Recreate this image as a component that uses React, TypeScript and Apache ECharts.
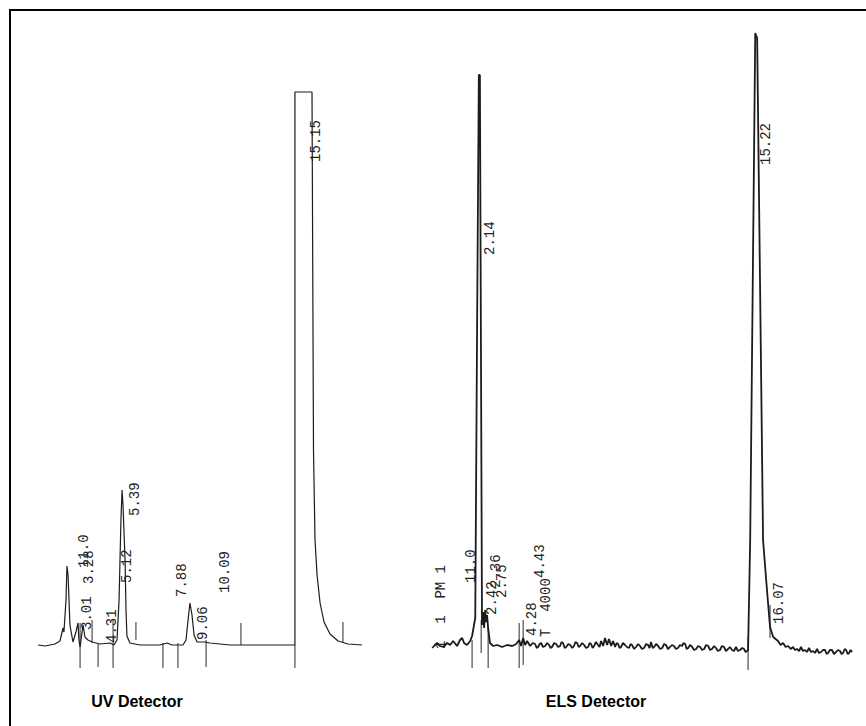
import React, { useEffect, useRef } from "react";
import * as echarts from "echarts";

// UV detector trace: [time (min), signal height]
const uvTrace: [number, number][] = [
  [0.91, 0], [1.28, -1], [1.81, 1], [2.08, 4], [2.24, 17], [2.29, 13], [2.4, 45], [2.45, 79],
  [2.51, 70], [2.61, 20], [2.77, 3], [2.93, 13], [3.04, 22], [3.09, 5], [3.15, -2], [3.2, 5],
  [3.31, 20], [3.41, 8], [3.57, 5], [3.79, 3], [4.21, 1], [4.75, 2], [4.96, 0], [5.12, 5],
  [5.23, 45], [5.33, 125], [5.39, 155], [5.44, 140], [5.55, 85], [5.6, 35], [5.65, 9], [5.81, 2],
  [6.35, 0], [7.41, 0], [7.79, 2], [8.05, 0], [8.64, 0], [8.8, 5], [8.91, 25], [9.01, 42],
  [9.12, 30], [9.23, 10], [9.39, 3], [9.81, 3], [10.08, 2], [11.15, 0], [14.61, 0], [14.61, 553],
  [15.52, 553], [15.6, 195], [15.68, 105], [15.79, 70], [15.95, 42], [16.16, 23], [16.48, 11],
  [16.91, 4], [17.44, 1], [18.19, 0],
];
// UV integration markers: [time, from, to]
const uvTicks: [number, number, number][] = [
  [3.15, 22, -23], [3.79, 25, 2], [4.11, 2, -22], [4.91, 25, -23], [6.13, 23, 5], [7.57, 2, -23],
  [8.37, 2, -23], [9.87, 5, -22], [11.73, 22, 0], [14.61, 0, -23], [17.17, 23, 3],
];
// UV peak labels: [time, height, text]
const uvLabels: [number, number, string][] = [
  [3.52, 15, "3.01"], [3.63, 61, "3.28"], [3.36, 77, "11.0"], [4.85, 2, "4.31"], [5.63, 62, "5.12"],
  [6.08, 129, "5.39"], [8.59, 48, "7.88"], [9.71, 5, "9.06"], [10.88, 52, "10.09"], [15.73, 483, "15.15"],
];

// ELS detector trace
const elsTrace: [number, number][] = [
  [-0.09, 0], [0.0, 2], [0.14, 5], [0.28, 2], [0.43, 1], [0.62, 5], [0.76, 3], [0.9, 7], [1.09, 2],
  [1.23, 8], [1.33, 10], [1.42, 5], [1.56, 3], [1.71, 7], [1.8, 12], [1.95, 30], [2.04, 330],
  [2.12, 573], [2.17, 573], [2.22, 300], [2.27, 23], [2.32, 36], [2.37, 20], [2.42, 38], [2.46, 26],
  [2.51, 33], [2.56, 20], [2.65, 5], [2.8, 2], [2.99, 3], [3.22, 1], [3.46, 3], [3.7, 2], [3.89, 4],
  [4.03, 8], [4.12, 2], [4.22, 10], [4.31, 3], [4.41, 7], [4.55, 2], [4.67, 5], [4.79, 4], [4.86, 0],
  [4.93, 1], [5.0, 4], [5.07, 5], [5.16, 1], [5.26, 2], [5.36, 5], [5.45, 3], [5.52, 0], [5.59, 1],
  [5.69, 5], [5.78, 4], [5.88, 1], [5.97, 2], [6.04, 6], [6.11, 5], [6.19, 0], [6.26, 1], [6.36, 4],
  [6.45, 3], [6.55, 0], [6.63, 2], [6.7, 6], [6.78, 5], [6.85, 1], [6.92, 2], [7.02, 5], [7.11, 3],
  [7.2, 0], [7.3, 1], [7.37, 5], [7.44, 4], [7.51, 0], [7.58, 2], [7.67, 6], [7.77, 3], [7.84, 1],
  [7.91, 7], [8.01, 2], [8.1, 10], [8.2, 3], [8.29, 9], [8.39, 2], [8.48, 7], [8.58, 1], [8.65, 5],
  [8.72, 4], [8.79, 0], [8.86, 1], [8.95, 5], [9.05, 3], [9.14, 1], [9.24, 0], [9.31, 4], [9.38, 3],
  [9.48, -1], [9.57, 1], [9.67, 4], [9.76, 2], [9.85, -1], [9.95, 0], [10.05, 4], [10.14, 3],
  [10.21, 0], [10.28, 6], [10.36, 0], [10.43, 1], [10.52, 4], [10.62, 2], [10.71, -1], [10.81, 0],
  [10.9, 4], [10.99, 3], [11.08, -1], [11.18, 1], [11.27, 3], [11.37, 2], [11.46, -1], [11.56, 0],
  [11.65, 3], [11.75, 2], [11.82, 5], [11.9, 4], [11.97, -1], [12.04, 0], [12.13, 3], [12.23, 1],
  [12.32, -2], [12.42, -1], [12.51, 2], [12.61, 1], [12.7, -2], [12.8, -1], [12.89, 3], [12.99, 2],
  [13.08, -2], [13.17, -1], [13.27, 2], [13.36, 0], [13.45, -3], [13.55, -2], [13.64, 2], [13.74, 1],
  [13.83, -3], [13.93, -1], [14.02, 1], [14.12, -2], [14.21, -3], [14.31, 1], [14.4, -3], [14.5, -2],
  [14.6, 0], [14.69, -1], [14.76, -4], [14.83, -3], [14.88, -2], [14.98, 108], [15.22, 615],
  [15.31, 610], [15.59, 108], [15.73, 70], [15.92, 21], [16.07, 11], [16.3, 7], [16.42, 3],
  [16.54, 5], [16.66, 1], [16.78, 2], [16.9, -1], [17.01, 1], [17.1, -2], [17.2, -1], [17.3, -3],
  [17.39, 1], [17.48, -3], [17.58, -2], [17.67, -4], [17.77, 0], [17.86, -4], [17.96, -3],
  [18.05, -5], [18.15, -1], [18.24, -5], [18.34, -4], [18.43, -2], [18.53, -2], [18.6, -6],
  [18.67, -5], [18.76, -2], [18.86, -2], [18.95, -6], [19.05, -4], [19.14, -2], [19.24, -3],
  [19.31, -6], [19.38, -5], [19.46, -1], [19.53, -2], [19.6, -6], [19.67, -5], [19.74, -2], [19.81, -4],
];
const elsTicks: [number, number, number][] = [
  [1.8, 8, -20], [2.23, 28, -5], [2.56, 21, -20], [4.03, 25, -20], [4.22, 28, -17],
  [14.88, 11, -22], [15.92, 43, 10],
];
const elsLabels: [number, number, string][] = [
  [0.33, -1, "1  1  PM 1"], [1.75, 65, "11.0"], [2.65, 393, "2.14"], [2.75, 33, "2.42"],
  [2.94, 60, "2.36"], [3.22, 50, "2.75"], [4.64, 12, "4.28"], [5.02, 70, "4.43"],
  [5.31, 11, "T  4000"], [15.73, 483, "15.22"], [16.35, 24, "16.07"],
];

const panelTitles = ["UV Detector", "ELS Detector"];

const INK = "#1c1c1c";
const LABEL_FONT = '14px "Liberation Mono", "DejaVu Sans Mono", monospace';

function tickSeries(ticks: [number, number, number][], idx: number) {
  return {
    type: "custom",
    xAxisIndex: idx,
    yAxisIndex: idx,
    clip: false,
    silent: true,
    data: ticks.map((t) => [t[0], t[1], t[2]]),
    encode: { x: 0, y: [1, 2] },
    renderItem: (params: any, api: any) => {
      const t = ticks[params.dataIndex];
      const p1 = api.coord([t[0], t[1]]);
      const p2 = api.coord([t[0], t[2]]);
      return {
        type: "line",
        shape: { x1: p1[0], y1: p1[1], x2: p2[0], y2: p2[1] },
        style: { stroke: "#2a2a2a", lineWidth: 1 },
      };
    },
  };
}

function labelSeries(labels: [number, number, string][], idx: number) {
  return {
    type: "custom",
    xAxisIndex: idx,
    yAxisIndex: idx,
    clip: false,
    silent: true,
    data: labels.map((l) => [l[0], l[1]]),
    encode: { x: 0, y: 1 },
    renderItem: (params: any, api: any) => {
      const l = labels[params.dataIndex];
      const p = api.coord([l[0], l[1]]);
      return {
        type: "text",
        x: p[0],
        y: p[1],
        rotation: Math.PI / 2,
        style: {
          text: l[2],
          font: LABEL_FONT,
          fill: "#222",
          align: "left",
          verticalAlign: "middle",
        },
      };
    },
  };
}

const hiddenAxis = {
  show: false,
  axisLine: { show: false },
  axisTick: { show: false },
  axisLabel: { show: false },
  splitLine: { show: false },
};

export default function App() {
  const ref = useRef<HTMLDivElement>(null);

  useEffect(() => {
    if (!ref.current) return;
    const chart = echarts.init(ref.current, undefined, { renderer: "svg" });
    chart.setOption({
      animation: false,
      backgroundColor: "#ffffff",
      grid: [
        { left: 21, top: 92, width: 346.875, height: 576 },
        { left: 432, top: 33, width: 424.11, height: 640 },
      ],
      xAxis: [
        { type: "value", gridIndex: 0, min: 0, max: 18.5, ...hiddenAxis },
        { type: "value", gridIndex: 1, min: -0.1, max: 20, ...hiddenAxis },
      ],
      yAxis: [
        { type: "value", gridIndex: 0, min: -23, max: 553, ...hiddenAxis },
        { type: "value", gridIndex: 1, min: -25, max: 615, ...hiddenAxis },
      ],
      graphic: [
        {
          type: "rect",
          shape: { x: 10, y: 10, width: 900, height: 800 },
          style: { fill: "none", stroke: "#000", lineWidth: 2 },
          silent: true,
        },
        {
          type: "text",
          x: 137,
          y: 701,
          style: {
            text: panelTitles[0],
            font: 'bold 16px "Liberation Sans", Arial, sans-serif',
            fill: "#000",
            align: "center",
            verticalAlign: "middle",
          },
        },
        {
          type: "text",
          x: 596,
          y: 701,
          style: {
            text: panelTitles[1],
            font: 'bold 16px "Liberation Sans", Arial, sans-serif',
            fill: "#000",
            align: "center",
            verticalAlign: "middle",
          },
        },
      ],
      series: [
        {
          type: "line",
          xAxisIndex: 0,
          yAxisIndex: 0,
          data: uvTrace,
          showSymbol: false,
          clip: false,
          silent: true,
          lineStyle: { color: INK, width: 1.2 },
        },
        {
          type: "line",
          xAxisIndex: 1,
          yAxisIndex: 1,
          data: elsTrace,
          showSymbol: false,
          clip: false,
          silent: true,
          lineStyle: { color: INK, width: 1.8 },
        },
        tickSeries(uvTicks, 0),
        tickSeries(elsTicks, 1),
        labelSeries(uvLabels, 0),
        labelSeries(elsLabels, 1),
      ],
    });
    return () => chart.dispose();
  }, []);

  return (
    <div
      ref={ref}
      style={{ position: "fixed", left: 0, top: 0, width: 866, height: 726, background: "#fff" }}
    />
  );
}
